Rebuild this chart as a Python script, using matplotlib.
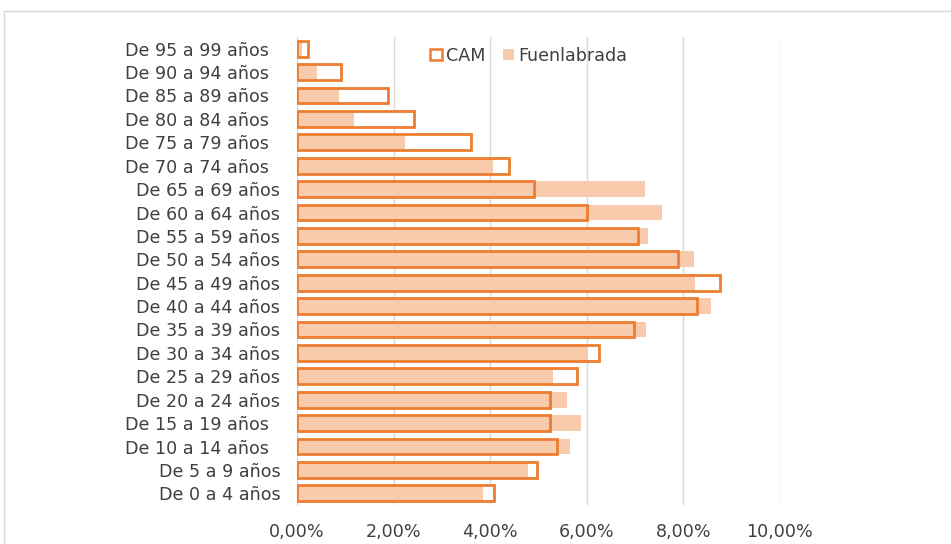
import matplotlib.pyplot as plt
from matplotlib.patches import Patch, Rectangle
from matplotlib.ticker import FuncFormatter

# age groups, bottom to top
grupos = ["De 0 a 4 años", "De 5 a 9 años", "De 10 a 14 años  ", "De 15 a 19 años  ",
          "De 20 a 24 años", "De 25 a 29 años", "De 30 a 34 años", "De 35 a 39 años",
          "De 40 a 44 años", "De 45 a 49 años", "De 50 a 54 años", "De 55 a 59 años",
          "De 60 a 64 años", "De 65 a 69 años", "De 70 a 74 años  ", "De 75 a 79 años  ",
          "De 80 a 84 años  ", "De 85 a 89 años  ", "De 90 a 94 años  ", "De 95 a 99 años  "]

# shares in percent
cam = [4.07, 4.96, 5.39, 5.23, 5.23, 5.79, 6.26, 6.98, 8.29, 8.76,
       7.89, 7.07, 6.00, 4.90, 4.38, 3.60, 2.42, 1.88, 0.91, 0.23]
fuenlabrada = [3.86, 4.79, 5.66, 5.87, 5.58, 5.29, 6.03, 7.23, 8.57, 8.24,
               8.22, 7.27, 7.56, 7.21, 4.05, 2.23, 1.18, 0.87, 0.41, 0.10]

naranja = "#ED7D31"
melocoton = "#F8CBAD"
gris_txt = "#404040"
fs = 12.6

fig = plt.figure(figsize=(9.51, 5.44), dpi=100)
# outer chart border
fig.patches.append(Rectangle((4 / 951, -0.01), 1.0, 1 - 11 / 544 + 0.01, transform=fig.transFigure,
                             fill=False, edgecolor="#D9D9D9", linewidth=1))
ax = fig.add_axes([297 / 951, 1 - 505 / 544, (780 - 297) / 951, (505 - 37) / 544])

y = range(len(grupos))
h = 0.68
cam_frac = [v / 100 for v in cam]
fue_frac = [v / 100 for v in fuenlabrada]
# CAM white fill behind, Fuenlabrada fill, CAM outline on top
ax.barh(y, cam_frac, height=h, color="white", linewidth=0, zorder=2)
ax.barh(y, fue_frac, height=h, color=melocoton, linewidth=0, zorder=3)
ax.barh(y, cam_frac, height=h, facecolor="none", edgecolor=naranja, linewidth=2, zorder=4)

ax.set_xlim(0, 0.10)
ax.set_ylim(-0.5, len(grupos) - 0.5)
ax.set_xticks([0, 0.02, 0.04, 0.06, 0.08, 0.10])
ax.xaxis.set_major_formatter(FuncFormatter(lambda v, p: f"{v * 100:.2f}%".replace(".", ",")))
ax.set_yticks(list(y))
ax.set_yticklabels(grupos)
ax.tick_params(axis="both", length=0, labelsize=fs, labelcolor=gris_txt)
ax.tick_params(axis="y", pad=12)
ax.tick_params(axis="x", pad=13)
ax.grid(axis="x", color="#D9D9D9", linewidth=1, zorder=0)
ax.set_axisbelow(True)
for s in ["top", "right", "bottom"]:
    ax.spines[s].set_visible(False)
ax.spines["left"].set_color("#D9D9D9")

handles = [Patch(facecolor="white", edgecolor=naranja, linewidth=1.8, label="CAM"),
           Patch(facecolor=melocoton, edgecolor="none", label="Fuenlabrada")]
leg = ax.legend(handles=handles, loc="center", bbox_to_anchor=(0.48, 0.96), ncol=2, frameon=False,
                fontsize=fs, handlelength=0.65, handleheight=0.65, handletextpad=0.25, columnspacing=1.0)
for t in leg.get_texts():
    t.set_color(gris_txt)

fig.savefig("out.png", dpi=100)
